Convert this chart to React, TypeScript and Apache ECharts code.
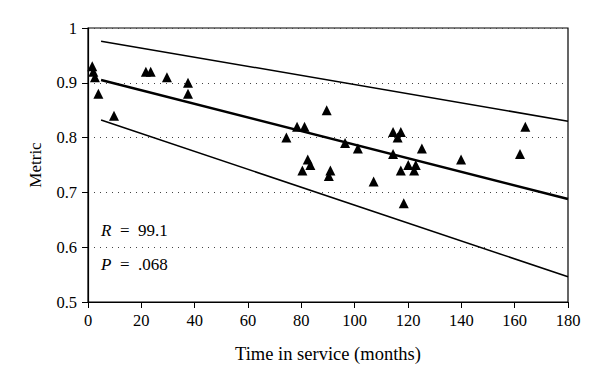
import React, { useEffect, useRef } from "react";
import * as echarts from "echarts";

const months = [1.6, 2, 2.6, 3.9, 9.75, 21.7, 23.5, 29.6, 37.5, 37.5, 74.4, 78.4, 81.2, 89.5, 96.4, 101.2, 82.4, 83.4, 80.4, 90.9, 90.3, 107.1, 114.4, 117.3, 116.1, 125.2, 114.4, 120.1, 122.9, 117.3, 122.3, 118.4, 139.9, 164, 162];
const metric = [0.93, 0.92, 0.91, 0.88, 0.84, 0.92, 0.92, 0.91, 0.9, 0.88, 0.8, 0.82, 0.82, 0.85, 0.79, 0.78, 0.76, 0.75, 0.74, 0.74, 0.73, 0.72, 0.81, 0.81, 0.8, 0.78, 0.77, 0.75, 0.75, 0.74, 0.74, 0.68, 0.76, 0.82, 0.77];

const lineX = [4.9, 180];
const fitY = [0.905, 0.688];
const upperY = [0.976, 0.830];
const lowerY = [0.832, 0.546];

const statR = "99.1";
const statP = ".068";

const FONT = "Liberation Serif";

export default function App() {
  const ref = useRef<HTMLDivElement>(null);
  useEffect(() => {
    const chart = echarts.init(ref.current!, null, { renderer: "svg" });
    const pts = months.map((m, i) => [m, metric[i]]);
    const mk = (ys: number[]) => lineX.map((x, i) => [x, ys[i]]);
    const statStyle = (label: string, val: string) => ({
      text: "{i|" + label + "}\u2002=\u2002" + val,
      rich: { i: { fontStyle: "italic", fontFamily: FONT, fontSize: 17, fill: "#000" } },
      font: `17px "${FONT}"`,
      fill: "#000",
    });
    chart.setOption({
      animation: false,
      backgroundColor: "#fff",
      textStyle: { fontFamily: FONT },
      grid: {
        left: 88,
        right: 32,
        top: 28,
        bottom: 81,
        show: true,
        borderColor: "#000",
        borderWidth: 1.2,
      },
      xAxis: {
        type: "value",
        min: 0,
        max: 180,
        interval: 20,
        name: "Time in service (months)",
        nameLocation: "middle",
        nameGap: 42,
        nameTextStyle: { fontFamily: FONT, fontSize: 18.5, color: "#000" },
        axisLine: { show: true, onZero: false, lineStyle: { color: "#000", width: 1.2 } },
        axisTick: { show: true, inside: false, length: 6, lineStyle: { color: "#000" } },
        axisLabel: { fontFamily: FONT, fontSize: 16.5, color: "#000", margin: 10 },
        splitLine: { show: false },
      },
      yAxis: {
        type: "value",
        min: 0.5,
        max: 1,
        interval: 0.1,
        name: "Metric",
        nameLocation: "middle",
        nameGap: 44,
        nameRotate: 90,
        nameTextStyle: { fontFamily: FONT, fontSize: 17, color: "#000" },
        axisLine: { show: true, onZero: false, lineStyle: { color: "#000", width: 1.2 } },
        axisTick: { show: true, inside: false, length: 6, lineStyle: { color: "#000" } },
        axisLabel: {
          fontFamily: FONT,
          fontSize: 16.5,
          color: "#000",
          margin: 11,
          formatter: (v: number) => (Math.abs(v - 1) < 1e-9 ? "1" : v.toFixed(1)),
        },
        splitLine: { show: true, lineStyle: { color: "#444", type: [1, 5], width: 1 } },
      },
      series: [
        {
          type: "line",
          data: mk(upperY),
          symbol: "none",
          lineStyle: { color: "#000", width: 1.5 },
        },
        {
          type: "line",
          data: mk(fitY),
          symbol: "none",
          lineStyle: { color: "#000", width: 2.5 },
        },
        {
          type: "line",
          data: mk(lowerY),
          symbol: "none",
          lineStyle: { color: "#000", width: 1.5 },
        },
        {
          type: "scatter",
          data: pts,
          symbol: "triangle",
          symbolSize: 10,
          itemStyle: { color: "#000", opacity: 1 },
        },
      ],
      graphic: [
        { type: "text", left: 101, top: 222, style: statStyle("R", statR) },
        { type: "text", left: 101, top: 256, style: statStyle("P", statP) },
      ],
    });
    return () => chart.dispose();
  }, []);
  return <div ref={ref} style={{ width: 600, height: 383, position: "absolute", left: 0, top: 0 }} />;
}
